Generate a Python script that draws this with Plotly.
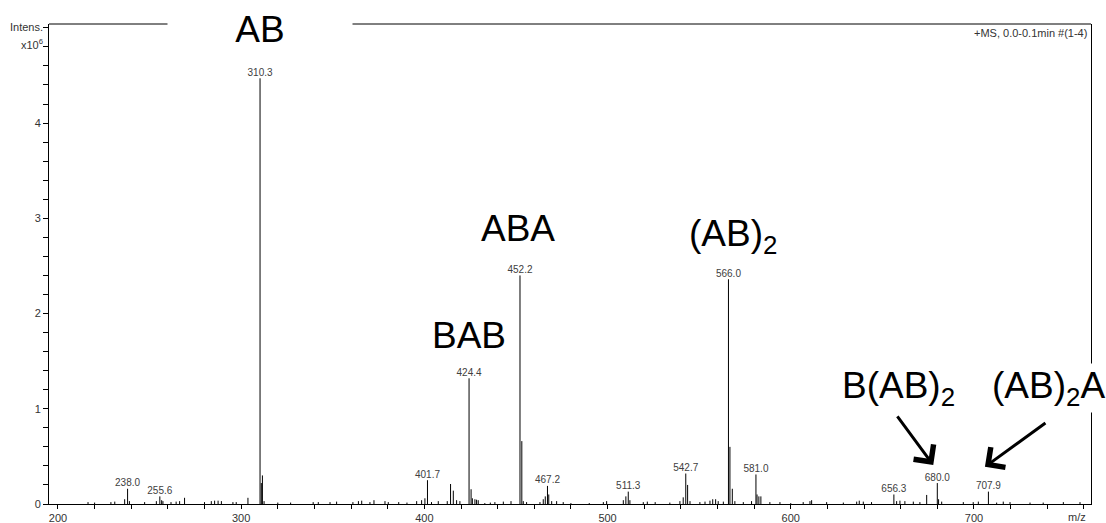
import plotly.graph_objects as go

# m/z and intensity (x10^6) of the labelled peaks
label_mz = [238.0, 255.6, 310.3, 401.7, 424.4, 452.2, 467.2, 511.3,
            542.7, 566.0, 581.0, 656.3, 680.0, 707.9]
label_int = [0.16, 0.08, 4.47, 0.25, 1.32, 2.40, 0.19, 0.13,
             0.32, 2.36, 0.31, 0.10, 0.22, 0.13]

# smaller peaks without labels
minor_mz = [216.4, 220.0, 228.9, 231.0, 236.4, 239.0, 247.3, 253.7, 256.6, 257.3,
            261.7, 264.5, 266.4, 269.1, 280.0, 283.7, 285.5, 287.4, 289.2, 295.5,
            297.3, 303.7, 311.0, 311.6, 312.5, 320.0, 327.0, 339.3, 342.1, 348.5,
            352.1, 361.0, 364.0, 365.8, 370.3, 372.5, 378.5, 380.3, 386.0, 390.5,
            395.8, 398.5, 400.3, 403.9, 407.6, 412.5, 414.3, 415.8, 417.6, 419.4,
            425.5, 426.2, 427.6, 428.5, 429.4, 433.0, 436.0, 438.5, 443.1, 447.3,
            453.2, 454.0, 455.8, 463.1, 464.9, 466.0, 467.9, 469.5, 472.2, 475.8,
            480.0, 490.0, 497.7, 499.5, 508.6, 510.0, 512.2, 519.5, 521.7, 526.0,
            534.0, 539.5, 541.3, 543.7, 545.0, 550.4, 553.2, 555.9, 557.4, 559.0,
            560.4, 563.2, 566.8, 568.1, 569.5, 574.1, 578.6, 581.6, 582.6, 583.7,
            588.6, 594.1, 600.0, 606.8, 610.5, 611.4, 619.6, 628.7, 636.0, 637.4,
            639.6, 644.1, 657.8, 659.6, 662.3, 666.9, 670.5, 674.2, 680.7, 682.4,
            694.2, 699.6, 702.4, 712.4, 716.0, 719.7, 730.6, 737.8, 748.8, 757.9]
minor_int = [0.02, 0.015, 0.02, 0.025, 0.05, 0.03, 0.02, 0.03, 0.04, 0.03,
             0.02, 0.025, 0.03, 0.065, 0.02, 0.03, 0.035, 0.035, 0.03, 0.02,
             0.02, 0.065, 0.22, 0.30, 0.03, 0.015, 0.015, 0.02, 0.02, 0.02,
             0.025, 0.02, 0.03, 0.035, 0.02, 0.04, 0.03, 0.02, 0.02, 0.015,
             0.03, 0.04, 0.06, 0.02, 0.03, 0.03, 0.21, 0.14, 0.04, 0.03,
             0.155, 0.06, 0.05, 0.045, 0.04, 0.01, 0.015, 0.02, 0.025, 0.03,
             0.66, 0.03, 0.02, 0.02, 0.05, 0.08, 0.10, 0.03, 0.03, 0.02,
             0.01, 0.01, 0.02, 0.03, 0.04, 0.08, 0.04, 0.02, 0.025, 0.02,
             0.015, 0.03, 0.07, 0.20, 0.03, 0.02, 0.025, 0.035, 0.05, 0.05,
             0.03, 0.025, 0.60, 0.16, 0.03, 0.02, 0.03, 0.10, 0.08, 0.08,
             0.02, 0.02, 0.01, 0.02, 0.03, 0.04, 0.02, 0.015, 0.025, 0.035,
             0.025, 0.02, 0.03, 0.035, 0.03, 0.025, 0.02, 0.095, 0.05, 0.025,
             0.02, 0.02, 0.025, 0.015, 0.025, 0.02, 0.015, 0.015, 0.02, 0.02]

y_ticks = [0, 1, 2, 3, 4]

FONT = "Arial, Liberation Sans, sans-serif"

# stick spectrum: each peak is a vertical segment from 0
all_mz = label_mz + minor_mz
all_int = label_int + minor_int
xs, ys = [], []
for m, h in zip(all_mz, all_int):
    xs += [m, m, None]
    ys += [0, h, None]

fig = go.Figure()
fig.add_trace(go.Scatter(x=xs, y=ys, mode="lines",
                         line=dict(color="black", width=1), hoverinfo="skip"))
fig.add_trace(go.Scatter(x=label_mz, y=label_int, mode="text",
                         text=[f"{m:.1f}" for m in label_mz],
                         textposition="top center",
                         textfont=dict(family=FONT, size=10, color="#404040"),
                         hoverinfo="skip"))

# big structure labels
big = dict(family=FONT, size=37, color="black")
annots = [
    dict(x=310.3, y=4.98, text="AB", width=182, bgcolor="white"),
    dict(x=451.1, y=2.89, text="ABA"),
    dict(x=424.3, y=1.77, text="BAB"),
    dict(x=543.1, y=2.81, text="(AB)<sub>2</sub>", xanchor="left"),
    dict(x=626.9, y=1.22, text="B(AB)<sub>2</sub>", xanchor="left"),
    dict(x=708.7, y=1.22, text="(AB)<sub>2</sub>A", xanchor="left", bgcolor="white"),
]
for a in annots:
    a.setdefault("xanchor", "center")
    fig.add_annotation(xref="x", yref="y", yanchor="middle", showarrow=False,
                       font=big, **a)

# arrows
fig.add_annotation(x=677.8, y=0.41, xref="x", yref="y", ax=-37, ay=-50, text="",
                   showarrow=True, arrowhead=4, arrowsize=1.6, arrowwidth=3,
                   arrowcolor="black")
fig.add_annotation(x=706.0, y=0.39, xref="x", yref="y", ax=62, ay=-45, text="",
                   showarrow=True, arrowhead=4, arrowsize=1.6, arrowwidth=3,
                   arrowcolor="black")

small = dict(family=FONT, size=11, color="#333333")
fig.add_annotation(xref="paper", yref="paper", x=-0.004, y=0.994, text="Intens.",
                   xanchor="right", yanchor="middle", showarrow=False, font=small)
fig.add_annotation(xref="paper", yref="paper", x=-0.004, y=0.958, text="x10<sup>6</sup>",
                   xanchor="right", yanchor="middle", showarrow=False, font=small)
fig.add_annotation(xref="paper", yref="paper", x=0.998, y=0.981,
                   text="+MS, 0.0-0.1min #(1-4)", xanchor="right", yanchor="middle",
                   showarrow=False, font=small)
fig.add_annotation(xref="paper", yref="paper", x=0.9866, y=-0.027, text="m/z",
                   xanchor="center", yanchor="middle", showarrow=False, font=small)

# top frame, broken behind the "AB" label
for x0, x1 in [(0, 0.1161), (0.2908, 1)]:
    fig.add_shape(type="line", xref="paper", yref="paper", x0=x0, x1=x1, y0=1, y1=1,
                  line=dict(color="black", width=1))

fig.update_xaxes(range=[195.1, 763.9], tick0=200, dtick=100, ticks="outside",
                 ticklen=4, tickcolor="black", showline=True, linecolor="black",
                 linewidth=1, showgrid=False, zeroline=False, automargin=False,
                 tickfont=dict(family=FONT, size=11, color="#333333"),
                 minor=dict(dtick=20, ticks="outside", ticklen=4, tickcolor="black"))
fig.update_yaxes(range=[0, 5.04], tickmode="array", tickvals=y_ticks, ticks="outside",
                 ticklen=5, tickcolor="black", showline=True, linecolor="black",
                 linewidth=1, mirror=True, showgrid=False, zeroline=False,
                 automargin=False,
                 tickfont=dict(family=FONT, size=11, color="#333333"),
                 minor=dict(tick0=0, dtick=0.2, ticks="outside", ticklen=5,
                            tickcolor="black"))

fig.update_layout(width=1106, height=523, autosize=False, showlegend=False,
                  margin=dict(l=49, r=15, t=24, b=19, pad=0),
                  plot_bgcolor="white", paper_bgcolor="white")

fig.write_html("out.html", config={"displayModeBar": False},
               post_script="document.body.style.margin='0';")
